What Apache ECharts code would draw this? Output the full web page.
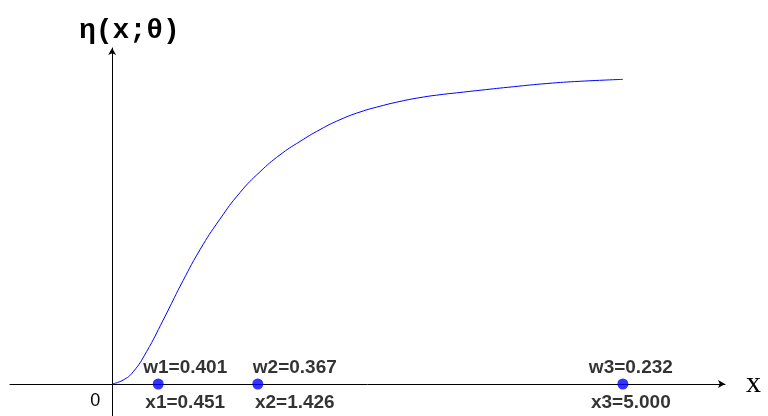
<!DOCTYPE html>
<html><head><meta charset="utf-8">
<script src="https://cdn.jsdelivr.net/npm/echarts@6/dist/echarts.min.js"></script>
<style>html,body{margin:0;padding:0;background:#fff}#c{width:768px;height:416px}</style>
</head><body><div id="c"></div>
<script>
const curveX = [0, 0.108, 0.206, 0.337, 0.5, 0.598, 0.663, 0.859, 1.055, 1.251, 1.447, 1.643, 1.839, 2.035, 2.231, 2.427, 2.623, 2.818, 3.014, 3.21, 3.406, 3.602, 3.928, 4.256, 4.582, 5.0];
const curveY = [0, 0.0125, 0.038, 0.101, 0.2, 0.2625, 0.304, 0.419, 0.515, 0.598, 0.663, 0.716, 0.758, 0.795, 0.826, 0.85, 0.868, 0.883, 0.895, 0.904, 0.911, 0.918, 0.929, 0.939, 0.946, 0.952];
const designX = [0.451, 1.426, 5.000];
const weights = [0.401, 0.367, 0.232];
const pointNames = ['1', '2', '3'];

const labelDx = [27, 37, 8];

const chart = echarts.init(document.getElementById('c'));
const curve = curveX.map((x, i) => [x, curveY[i]]);
const wData = designX.map((x, i) => ({
  value: [x, 0],
  label: { offset: [labelDx[i], -16], formatter: 'w' + pointNames[i] + '=' + weights[i].toFixed(3) }
}));
const xData = designX.map((x, i) => ({
  value: [x, 0],
  label: { offset: [labelDx[i], 19], formatter: 'x' + pointNames[i] + '=' + x.toFixed(3) }
}));
const lblStyle = { show: true, position: 'inside', align: 'center', verticalAlign: 'middle',
  fontFamily: 'Liberation Sans', fontWeight: 'bold', fontSize: 19, color: '#000',
  textBorderWidth: 0, textBorderColor: 'transparent' };

chart.setOption({
  animation: false,
  title: {
    text: '{g|η}{m|(x;}{g|θ}{m|)}',
    left: 74, top: 12,
    textStyle: { rich: {
      g: { fontFamily: 'Liberation Mono', fontSize: 28, color: '#000' },
      m: { fontFamily: 'Liberation Mono', fontWeight: 'bold', fontSize: 28, color: '#000' }
    } }
  },
  grid: { left: 10, right: 43, top: 48, bottom: 0, containLabel: false, outerBoundsMode: 'none' },
  xAxis: {
    type: 'value', min: -1, max: 6, interval: 1,
    axisLine: { onZero: true, lineStyle: { color: '#000', width: 1 }, symbol: ['none', 'arrow'], symbolSize: [6, 7] },
    axisTick: { show: false }, splitLine: { show: false },
    axisLabel: { formatter: v => (v === 0 ? '0' : ''), align: 'right', verticalAlign: 'top', padding: [0, 12, 0, 0], margin: -24,
      fontFamily: 'Liberation Sans', fontSize: 18, color: '#000' },
    name: 'x', nameLocation: 'end', nameGap: 21,
    nameTextStyle: { fontFamily: 'Liberation Serif', fontSize: 30, color: '#000', verticalAlign: 'middle', padding: [0, 0, 6, 0] }
  },
  yAxis: {
    type: 'value', min: -0.1, max: 1.05,
    axisLine: { onZero: true, lineStyle: { color: '#000', width: 1 }, symbol: ['none', 'arrow'], symbolSize: [6, 7] },
    axisTick: { show: false }, splitLine: { show: false }, axisLabel: { show: false }
  },
  series: [
    { type: 'line', data: curve, smooth: 0.5, showSymbol: false,
      lineStyle: { color: '#0000ff', width: 1 }, z: 2 },
    { type: 'scatter', data: wData, symbol: 'circle', symbolSize: 11,
      itemStyle: { color: '#0000ff' }, label: lblStyle, z: 3 },
    { type: 'scatter', data: xData, symbol: 'circle', symbolSize: 1,
      itemStyle: { color: 'rgba(0,0,0,0)' }, label: lblStyle, z: 3 }
  ]
});
</script></body></html>
